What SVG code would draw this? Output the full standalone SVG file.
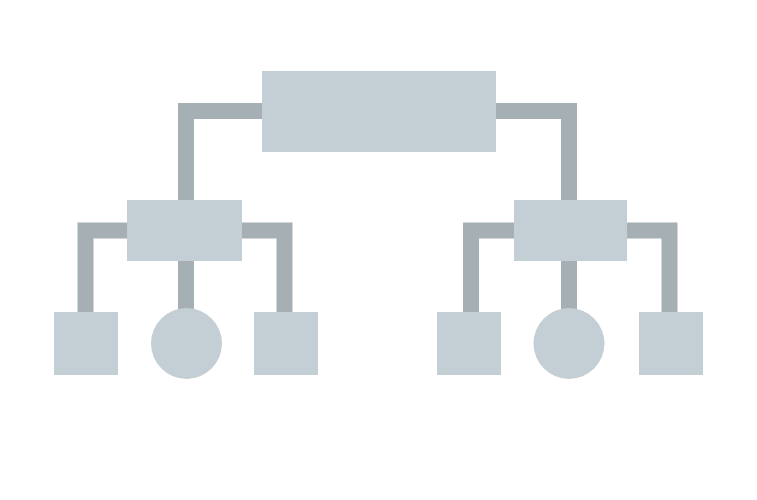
<svg xmlns="http://www.w3.org/2000/svg" width="757" height="500" viewBox="0 0 757 500">
<style>
.node{fill:#C3CED5}
.conn{fill:none;stroke:#A6AFB4;stroke-width:16;stroke-linejoin:miter;stroke-linecap:butt}
</style>
<rect width="757" height="500" fill="#FFFFFF"/>
<g id="connectors">
<path class="conn" d="M263 111 H186 V201"/>
<path class="conn" d="M495 111 H569 V201"/>
<path class="conn" d="M128 230.5 H85.5 V313"/>
<path class="conn" d="M241 230.5 H284.5 V313"/>
<path class="conn" d="M186 260 V310"/>
<path class="conn" d="M515 230.5 H471 V313"/>
<path class="conn" d="M626 230.5 H669.5 V313"/>
<path class="conn" d="M569 260 V310"/>
</g>
<g id="root"><rect class="node" x="262" y="71" width="234" height="81"/></g>
<g id="left"><rect class="node" x="127" y="200" width="115" height="61"/></g>
<g id="right"><rect class="node" x="514" y="200" width="113" height="61"/></g>
<g id="left-a"><rect class="node" x="54" y="312" width="64" height="63"/></g>
<g id="left-b"><circle class="node" cx="186.5" cy="343.5" r="35.5"/></g>
<g id="left-c"><rect class="node" x="254" y="312" width="64" height="63"/></g>
<g id="right-a"><rect class="node" x="437" y="312" width="64" height="63"/></g>
<g id="right-b"><circle class="node" cx="569" cy="343.5" r="35.5"/></g>
<g id="right-c"><rect class="node" x="639" y="312" width="64" height="63"/></g>
</svg>
